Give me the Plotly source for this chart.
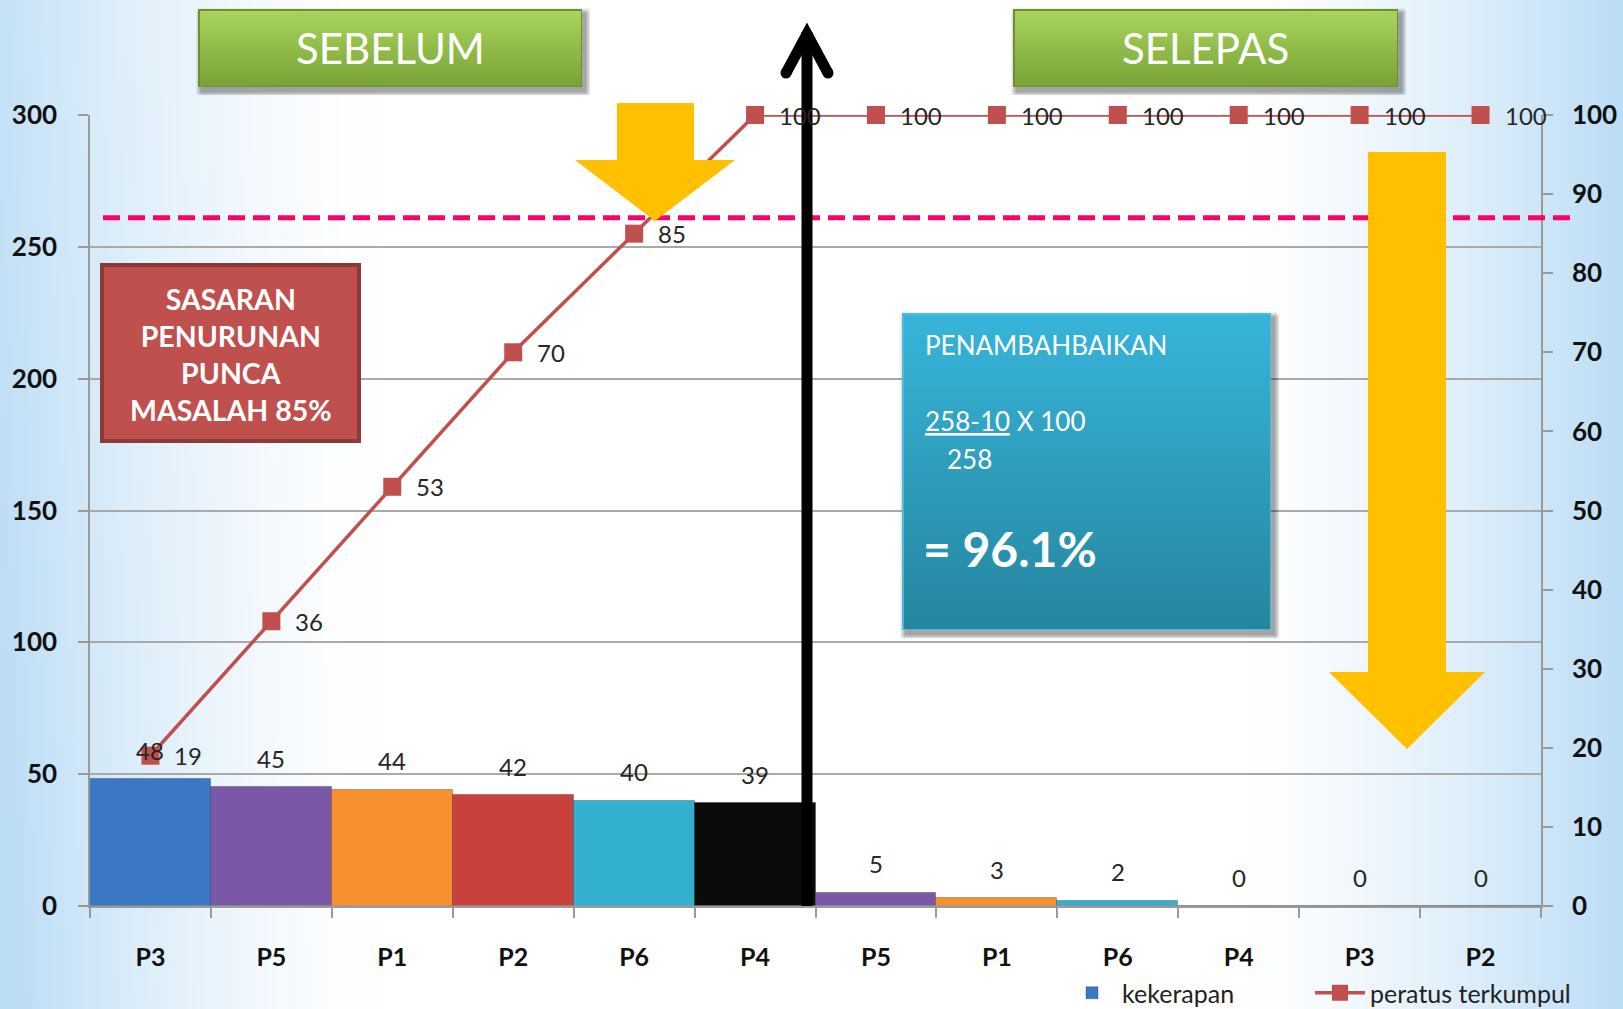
import base64
import struct
import zlib

import numpy as np
import plotly.graph_objects as go

# ---------------------------------------------------------------- data
categories = ["P3", "P5", "P1", "P2", "P6", "P4", "P5", "P1", "P6", "P4", "P3", "P2"]
kekerapan = [48, 45, 44, 42, 40, 39, 5, 3, 2, 0, 0, 0]
peratus_terkumpul = [19, 36, 53, 70, 85, 100, 100, 100, 100, 100, 100, 100]
bar_colors = ["#3b78c3", "#7b58a7", "#f7902f", "#c9403d", "#33afcf", "#0b0b0b",
              "#7b58a7", "#f7902f", "#33afcf", "#0b0b0b", "#3b78c3", "#c9403d"]
left_ticks = [0, 50, 100, 150, 200, 250, 300]
right_ticks = [0, 10, 20, 30, 40, 50, 60, 70, 80, 90, 100]
target_line = 87  # dashed target level on the percentage axis

# ---------------------------------------------------------------- geometry
FIG_W, FIG_H = 1623, 1009
L, R, T, B = 90, 1541, 115, 906
PW, PH = R - L, B - T


def xp(px):
    return (px - L) / PW


def yp(py):
    return (B - py) / PH


# ---------------------------------------------------------------- tiny png writer
def png_uri(arr):
    arr = np.ascontiguousarray(arr.astype(np.uint8))
    h, w, c = arr.shape
    ctype = 6 if c == 4 else 2
    raw = b"".join(b"\x00" + arr[y].tobytes() for y in range(h))

    def chunk(tag, data):
        return (struct.pack(">I", len(data)) + tag + data
                + struct.pack(">I", zlib.crc32(tag + data) & 0xFFFFFFFF))

    png = (b"\x89PNG\r\n\x1a\n"
           + chunk(b"IHDR", struct.pack(">IIBBBBB", w, h, 8, ctype, 0, 0, 0))
           + chunk(b"IDAT", zlib.compress(raw, 9))
           + chunk(b"IEND", b""))
    return "data:image/png;base64," + base64.b64encode(png).decode()


def hex_rgb(h):
    h = h.lstrip("#")
    return np.array([int(h[i:i + 2], 16) for i in (0, 2, 4)], dtype=float)


def background():
    w, h = 406, 253
    X = (np.arange(w) + 0.5) * FIG_W / w
    Y = (np.arange(h) + 0.5) * FIG_H / h
    XX, YY = np.meshgrid(X, Y)
    tl = np.clip(1 - XX / 380, 0, 1) ** 1.5 * (0.85 + 0.2 * YY / FIG_H)
    tr = np.clip((XX - 1250) / 373, 0, 1) ** 1.3
    t = np.clip(np.maximum(tl, tr), 0, 1)[..., None]
    blue = np.array([188, 221, 246], dtype=float)
    img = 255 * (1 - t) + blue * t
    return png_uri(img)


def box_image(w, h, top, bottom, border, m=8, sh=(3, 4, 6, 0.35)):
    """Vertical gradient box with border and soft drop shadow, RGBA."""
    W, H = w + 2 * m, h + 2 * m
    yy, xx = np.mgrid[0:H, 0:W].astype(float)
    dx, dy, blur, a = sh
    x0, x1, y0, y1 = m + dx, m + w + dx, m + dy, m + h + dy
    ddx = np.maximum(np.maximum(x0 - xx, xx - x1), 0)
    ddy = np.maximum(np.maximum(y0 - yy, yy - y1), 0)
    d = np.hypot(ddx, ddy)
    sa = a * np.clip(1 - d / blur, 0, 1)
    img = np.zeros((H, W, 4))
    img[..., 3] = sa * 255
    inside = (xx >= m) & (xx < m + w) & (yy >= m) & (yy < m + h)
    tt = ((yy - m) / max(h - 1, 1)).clip(0, 1)[..., None]
    col = hex_rgb(top) * (1 - tt) + hex_rgb(bottom) * tt
    edge = inside & ((xx < m + 1.5) | (xx >= m + w - 1.5) | (yy < m + 1.5) | (yy >= m + h - 1.5))
    img[inside, :3] = col[inside]
    img[inside, 3] = 255
    img[edge, :3] = hex_rgb(border)
    return png_uri(img), m


def place_box(x0, y0, x1, y1, top, bottom, border):
    uri, m = box_image(int(x1 - x0), int(y1 - y0), top, bottom, border)
    return dict(source=uri, xref="paper", yref="paper",
                x=xp(x0 - m), y=yp(y0 - m),
                sizex=(x1 - x0 + 2 * m) / PW, sizey=(y1 - y0 + 2 * m) / PH,
                xanchor="left", yanchor="top", sizing="stretch", layer="above")


FONT = "Lato"
TXT = "#262626"

x_idx = list(range(len(categories)))

fig = go.Figure()
fig.add_trace(go.Bar(
    x=x_idx, y=kekerapan, name="kekerapan", legend="legend",
    marker=dict(color=bar_colors, line=dict(color="rgba(0,0,0,0.25)", width=1)),
    yaxis="y", hoverinfo="y",
))
fig.add_trace(go.Scatter(
    x=x_idx, y=peratus_terkumpul, name="peratus terkumpul", yaxis="y2", legend="legend2",
    mode="lines+markers", cliponaxis=False,
    line=dict(color="#c0504d", width=3.5),
    marker=dict(symbol="square", size=18, color="#c0504d"),
))

annotations = []
# value labels above bars
for i, v in enumerate(kekerapan):
    annotations.append(dict(x=i, y=v, xref="x", yref="y", text=str(v), showarrow=False,
                            xanchor="center", yanchor="middle", yshift=29,
                            font=dict(family=FONT, size=24, color=TXT)))
# value labels to the right of the cumulative markers
for i, v in enumerate(peratus_terkumpul):
    annotations.append(dict(x=i, y=v, xref="x", yref="y2", text=str(v), showarrow=False,
                            xanchor="left", yanchor="middle", xshift=22,
                            font=dict(family=FONT, size=24, color=TXT)))


def note(px, py, text, size, anchor="center", bold=False):
    return dict(x=xp(px), y=yp(py), xref="paper", yref="paper", text=text,
                showarrow=False, xanchor=anchor, yanchor="middle", align="center",
                font=dict(family=FONT, size=size, color="white",
                          weight="bold" if bold else "normal"))


annotations += [
    note(390, 48, "SEBELUM", 42),
    note(1205.5, 48, "SELEPAS", 42),
    note(230.5, 354, "SASARAN<br>PENURUNAN<br>PUNCA<br>MASALAH 85%", 28.5, bold=True),
    note(923, 345, "PENAMBAHBAIKAN", 26, anchor="left"),
    note(923, 421, "<u>258-10</u> X 100", 26, anchor="left"),
    note(945, 459, "258", 26, anchor="left"),
    note(921, 548, "= 96.1%", 48, anchor="left", bold=True),
]


def path(points):
    return "M " + " L ".join(f"{xp(x):.5f},{yp(y):.5f}" for x, y in points) + " Z"


def open_path(points):
    return "M " + " L ".join(f"{xp(x):.5f},{yp(y):.5f}" for x, y in points)


shapes = [
    # target dashed line
    dict(type="line", xref="paper", yref="y2", x0=xp(103), x1=xp(1577),
         y0=target_line, y1=target_line,
         line=dict(color="#ff0066", width=5, dash="17px,8px"), layer="above"),
    # yellow block arrows
    dict(type="path", xref="paper", yref="paper", layer="above",
         path=path([(617, 103), (694, 103), (694, 160), (735, 160), (655, 221),
                    (575, 160), (617, 160)]),
         fillcolor="#ffc000", line=dict(width=0)),
    dict(type="path", xref="paper", yref="paper", layer="above",
         path=path([(1368, 152), (1446, 152), (1446, 672), (1485, 672), (1407, 749),
                    (1329, 672), (1368, 672)]),
         fillcolor="#ffc000", line=dict(width=0)),
    # black divider arrow
    dict(type="line", xref="paper", yref="paper", layer="above",
         x0=xp(807), x1=xp(807), y0=yp(906), y1=yp(32), line=dict(color="black", width=11)),
    dict(type="path", xref="paper", yref="paper", layer="above",
         path=open_path([(786, 73), (807, 34), (828, 73)]),
         line=dict(color="black", width=11)),
    dict(type="circle", xref="paper", yref="paper", layer="above",
         x0=xp(780.5), x1=xp(791.5), y0=yp(67.5), y1=yp(78.5), fillcolor="black",
         line=dict(width=0)),
    dict(type="circle", xref="paper", yref="paper", layer="above",
         x0=xp(822.5), x1=xp(833.5), y0=yp(67.5), y1=yp(78.5), fillcolor="black",
         line=dict(width=0)),
    # target box
    dict(type="rect", xref="paper", yref="paper", layer="above",
         x0=xp(102), x1=xp(359), y0=yp(265), y1=yp(441),
         fillcolor="#c0504d", line=dict(color="#8c3a38", width=4)),
]

images = [
    dict(source=background(), xref="paper", yref="paper", x=xp(0), y=yp(0),
         sizex=FIG_W / PW, sizey=FIG_H / PH, xanchor="left", yanchor="top",
         sizing="stretch", layer="below"),
    place_box(198, 9, 582, 87, "#abd65c", "#79a237", "#6f8f30"),
    place_box(1013, 9, 1398, 87, "#abd65c", "#79a237", "#6f8f30"),
    place_box(902, 313, 1271, 630, "#37b5da", "#2686a0", "#4cbcdc"),
]

AX = "#9a9a9a"
legend_style = dict(orientation="h", xanchor="left", yanchor="middle", y=yp(993),
                    font=dict(family=FONT, size=25, color="#222"),
                    bgcolor="rgba(0,0,0,0)", itemwidth=50)
fig.update_layout(
    width=FIG_W, height=FIG_H,
    margin=dict(l=L, r=FIG_W - R, t=T, b=FIG_H - B, autoexpand=False),
    paper_bgcolor="white", plot_bgcolor="rgba(0,0,0,0)",
    font=dict(family=FONT, color=TXT),
    bargap=0,
    showlegend=True,
    legend=dict(x=xp(1062), **legend_style),
    legend2=dict(x=xp(1310), **legend_style),
    xaxis=dict(range=[-0.5, 11.5], tickvals=x_idx, ticktext=categories, ticks="",
               showgrid=False, zeroline=False, showline=True, linecolor=AX, linewidth=1.5,
               tickfont=dict(family=FONT, size=25, color="#111", weight="bold"),
               ticklabelstandoff=28,
               minor=dict(ticks="outside", tick0=-0.5, dtick=1, ticklen=10,
                          tickcolor=AX, tickwidth=1.5, showgrid=False)),
    yaxis=dict(range=[0, 300], tickvals=left_ticks, ticks="outside", ticklen=10,
               tickcolor=AX, tickwidth=1.5, showgrid=True, gridcolor="#a9a9a9", gridwidth=1.5,
               zeroline=False, showline=True, linecolor=AX, linewidth=1.5,
               tickfont=dict(family=FONT, size=26, color="#111", weight="bold"),
               ticklabelstandoff=16),
    yaxis2=dict(range=[0, 100], tickvals=right_ticks, overlaying="y", side="right",
                ticks="outside", ticklen=10, tickcolor=AX, tickwidth=1.5, showgrid=False,
                zeroline=False, showline=True, linecolor=AX, linewidth=1.5,
                tickfont=dict(family=FONT, size=26, color="#111", weight="bold"),
                ticklabelstandoff=14),
    annotations=annotations,
    shapes=shapes,
    images=images,
)

fig.write_html("out.html")
